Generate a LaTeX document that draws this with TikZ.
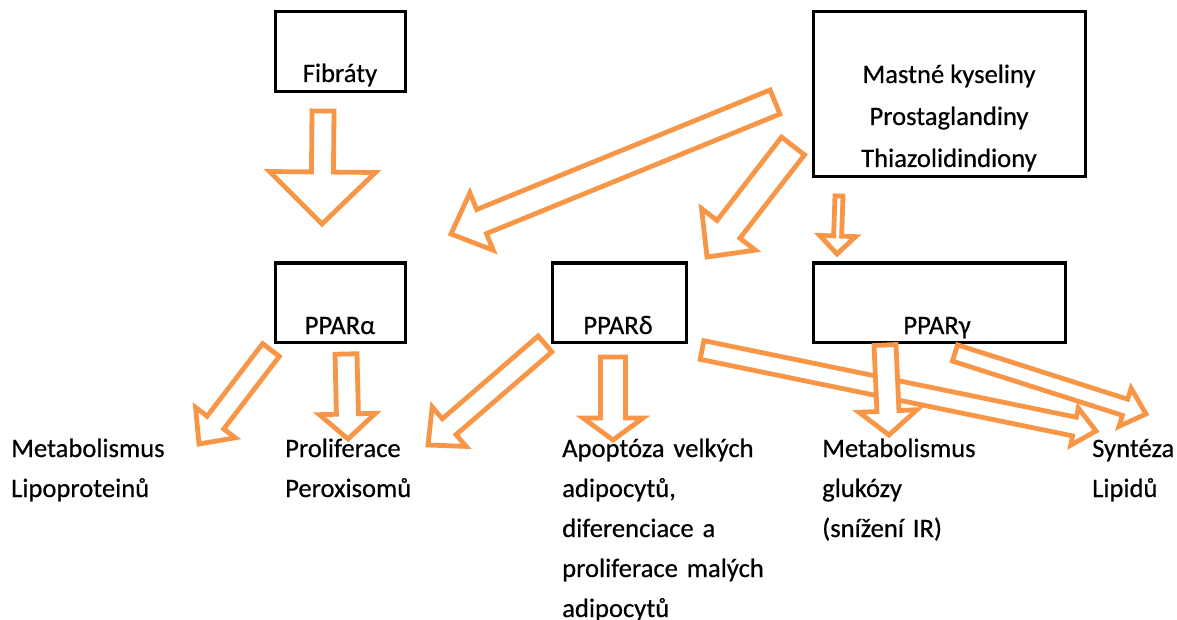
\documentclass[tikz,border=0pt]{standalone}
\usepackage{fontspec}
\setmainfont{Carlito}[FakeBold=0.5]
\usepackage{tikz}
\usetikzlibrary{calc}

\definecolor{pparorange}{RGB}{247,150,70}

% hollow block arrow: tail, tip, half shaft, head length, half head
\newcommand{\fatarrow}[5]{%
	\coordinate (fa-s) at ($(#2)!#4!(#1)$);
	\draw[fatline] ($(#1)!#3!90:(#2)$) -- ($(fa-s)!#3!90:(#2)$) -- ($(fa-s)!#5!90:(#2)$)
		-- (#2) -- ($(fa-s)!#5!-90:(#2)$) -- ($(fa-s)!#3!-90:(#2)$) -- ($(#1)!#3!-90:(#2)$) -- cycle;
}

\begin{document}
\begin{tikzpicture}[x=1pt, y=-1pt,
	box/.style={draw=black, line width=3pt, inner sep=0pt},
	txt/.style={font=\fontsize{26.6}{40}\selectfont, inner sep=0pt},
	lbl/.style={txt, align=left, anchor=base west},
	fatline/.style={draw=pparorange, fill=white, line width=4.8pt, line join=miter}]
	
	\useasboundingbox (0,0) rectangle (1177,620);
	
	% 1. Boxes
	\node[box, minimum width=130pt, minimum height=80pt] (fib) at (340,52) {};
	\node[box, minimum width=272pt, minimum height=165pt] (mk) at (949,94.5) {};
	\node[box, minimum width=130pt, minimum height=79pt] (alpha) at (340,302.5) {};
	\node[box, minimum width=134pt, minimum height=79pt] (delta) at (619,302.5) {};
	\node[box, minimum width=252pt, minimum height=79pt] (gamma) at (939,302.5) {};
	
	% texts inside the boxes
	\node[txt, anchor=base] (fibtxt) at (340,82) {Fibráty};
	\foreach \t/\yy [count=\i] in {Mastné kyseliny/83, Prostaglandiny/125, Thiazolidindiony/167} {
		\node[txt, anchor=base] (mk\i) at (949,\yy) {\t};
	}
	\node[txt, anchor=base] (alphatxt) at (340,334) {PPARα};
	\node[txt, anchor=base] (deltatxt) at (618,334) {PPARδ};
	\node[txt, anchor=base] (gammatxt) at (937,334) {PPARγ};
	
	% 2. Effects
	\node[lbl, text width=180pt] (metlip) at (11,457) {Metabolismus\\Lipoproteinů};
	\node[lbl, text width=180pt] (prolif) at (285,457) {Proliferace\\Peroxisomů};
	\node[lbl, text width=230pt] (apopt) at (562,457) {Apoptóza velkých\\adipocytů,\\diferenciace a\\proliferace malých\\adipocytů};
	\node[lbl, text width=200pt] (metglu) at (822,457) {Metabolismus\\glukózy\\(snížení IR)};
	\node[lbl, text width=84pt] (synt) at (1092,457) {Syntéza\\Lipidů};
	
	% 3. Arrow ends
	\coordinate (f1) at (323,111);  \coordinate (f2) at (322,224);
	\coordinate (m1) at (775,102);  \coordinate (m2) at (451,234);
	\coordinate (m3) at (793,146);  \coordinate (m4) at (707,257);
	\coordinate (m5) at (839,196);  \coordinate (m6) at (837,254);
	\coordinate (a1) at (271,350);  \coordinate (a2) at (199,444);
	\coordinate (a3) at (346,354);  \coordinate (a4) at (348,439);
	\coordinate (d1) at (545,344);  \coordinate (d2) at (428,445);
	\coordinate (d3) at (613,357);  \coordinate (d4) at (613,440);
	\coordinate (d5) at (702,350);  \coordinate (d6) at (1096,431);
	\coordinate (g1) at (955,353);  \coordinate (g2) at (1146,414);
	\coordinate (g3) at (885,345);  \coordinate (g4) at (889,435);
	
	% 4. Block arrows
	\fatarrow{f1}{f2}{11pt}{52pt}{53pt}
	\fatarrow{m1}{m2}{13pt}{33pt}{31pt}
	\fatarrow{m3}{m4}{14.5pt}{35pt}{34pt}
	\fatarrow{m5}{m6}{4pt}{18pt}{18pt}
	\fatarrow{a1}{a2}{10.5pt}{27pt}{25pt}
	\fatarrow{a3}{a4}{11pt}{25pt}{28pt}
	\fatarrow{d1}{d2}{10.5pt}{28pt}{26pt}
	\fatarrow{d3}{d4}{12.5pt}{22pt}{30pt}
	\fatarrow{d5}{d6}{9.5pt}{22pt}{19pt}
	\fatarrow{g1}{g2}{8.5pt}{22pt}{20pt}
	\fatarrow{g3}{g4}{11pt}{24pt}{29pt}
	
\end{tikzpicture}
\end{document}
